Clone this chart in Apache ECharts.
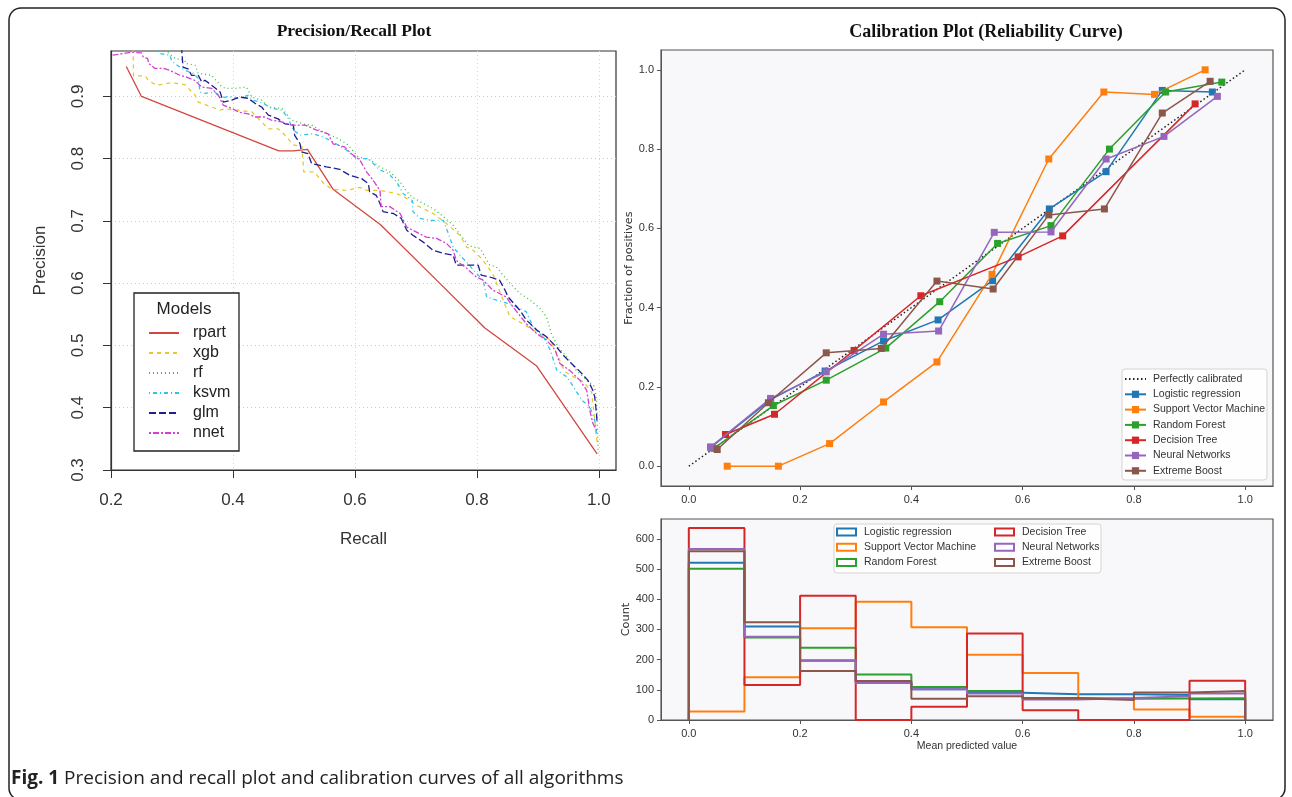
<!DOCTYPE html>
<html><head><meta charset="utf-8">
<script src="https://cdn.jsdelivr.net/npm/echarts@6/dist/echarts.min.js"></script>
<style>html,body{margin:0;padding:0;background:#fff}#c{width:1292px;height:797px}</style>
</head><body><div id="c"></div>
<script>
// ---------- Precision / Recall (recall, precision) ----------
const prModels = ['rpart', 'xgb', 'rf', 'ksvm', 'glm', 'nnet'];
const prRpart = [[0.225,0.948],[0.25,0.900],[0.475,0.8125],[0.499,0.8125],[0.500,0.815],[0.522,0.815],[0.564,0.751],[0.642,0.694],[0.740,0.599],[0.813,0.528],[0.898,0.467],[0.997,0.326]];
const prXgb = [[0.236,0.99],[0.237,0.933],[0.256,0.933],[0.262,0.925],[0.275,0.918],[0.299,0.922],[0.321,0.919],[0.338,0.902],[0.343,0.891],[0.365,0.883],[0.379,0.878],[0.386,0.880],[0.406,0.878],[0.431,0.875],[0.447,0.859],[0.458,0.848],[0.474,0.848],[0.485,0.838],[0.499,0.822],[0.513,0.820],[0.516,0.779],[0.532,0.779],[0.540,0.771],[0.548,0.761],[0.562,0.751],[0.586,0.749],[0.608,0.754],[0.619,0.749],[0.641,0.749],[0.663,0.745],[0.677,0.741],[0.690,0.733],[0.701,0.725],[0.712,0.720],[0.728,0.712],[0.750,0.696],[0.772,0.677],[0.783,0.658],[0.794,0.653],[0.805,0.642],[0.816,0.629],[0.827,0.613],[0.843,0.573],[0.854,0.546],[0.870,0.538],[0.892,0.525],[0.920,0.509],[0.933,0.482],[0.944,0.458],[0.958,0.450],[0.974,0.442],[0.988,0.426],[0.992,0.391],[0.996,0.353],[0.997,0.343]];
const prRf = [[0.290,0.99],[0.294,0.970],[0.305,0.961],[0.321,0.958],[0.322,0.953],[0.338,0.950],[0.343,0.937],[0.365,0.934],[0.379,0.918],[0.387,0.913],[0.403,0.913],[0.422,0.915],[0.431,0.899],[0.447,0.894],[0.458,0.883],[0.480,0.881],[0.496,0.862],[0.518,0.855],[0.529,0.854],[0.548,0.843],[0.573,0.832],[0.589,0.822],[0.605,0.803],[0.625,0.798],[0.641,0.787],[0.657,0.779],[0.674,0.763],[0.685,0.747],[0.693,0.739],[0.712,0.728],[0.728,0.720],[0.745,0.707],[0.761,0.693],[0.775,0.675],[0.786,0.661],[0.794,0.658],[0.805,0.656],[0.821,0.629],[0.832,0.626],[0.854,0.600],[0.870,0.584],[0.887,0.573],[0.903,0.560],[0.914,0.546],[0.922,0.519],[0.933,0.498],[0.947,0.482],[0.963,0.460],[0.980,0.444],[0.993,0.434],[0.996,0.412],[0.999,0.327]];
const prKsvm = [[0.270,0.99],[0.280,0.969],[0.297,0.966],[0.299,0.958],[0.304,0.953],[0.321,0.942],[0.335,0.937],[0.343,0.929],[0.346,0.907],[0.354,0.905],[0.370,0.907],[0.381,0.897],[0.392,0.900],[0.409,0.897],[0.425,0.902],[0.433,0.894],[0.450,0.889],[0.463,0.881],[0.480,0.878],[0.490,0.866],[0.499,0.846],[0.510,0.838],[0.532,0.840],[0.548,0.835],[0.564,0.827],[0.586,0.814],[0.603,0.800],[0.622,0.800],[0.641,0.782],[0.655,0.776],[0.668,0.763],[0.679,0.744],[0.694,0.733],[0.695,0.715],[0.707,0.704],[0.723,0.701],[0.745,0.701],[0.753,0.680],[0.761,0.658],[0.775,0.642],[0.783,0.634],[0.799,0.616],[0.810,0.605],[0.816,0.578],[0.832,0.573],[0.849,0.568],[0.865,0.562],[0.881,0.554],[0.892,0.530],[0.909,0.514],[0.920,0.493],[0.931,0.460],[0.947,0.450],[0.958,0.434],[0.972,0.412],[0.985,0.402],[0.993,0.380],[0.996,0.359]];
const prGlm = [[0.300,0.99],[0.316,0.975],[0.318,0.947],[0.327,0.944],[0.332,0.934],[0.343,0.934],[0.349,0.923],[0.354,0.926],[0.365,0.918],[0.379,0.907],[0.384,0.891],[0.398,0.894],[0.411,0.899],[0.425,0.897],[0.436,0.889],[0.447,0.883],[0.458,0.870],[0.474,0.864],[0.485,0.856],[0.499,0.854],[0.501,0.838],[0.510,0.824],[0.512,0.811],[0.523,0.808],[0.529,0.792],[0.553,0.787],[0.575,0.783],[0.592,0.773],[0.611,0.768],[0.622,0.760],[0.624,0.747],[0.635,0.741],[0.641,0.728],[0.646,0.715],[0.663,0.712],[0.676,0.704],[0.685,0.685],[0.695,0.677],[0.712,0.666],[0.728,0.653],[0.745,0.648],[0.761,0.645],[0.766,0.629],[0.802,0.629],[0.807,0.613],[0.821,0.610],[0.837,0.605],[0.846,0.589],[0.851,0.578],[0.870,0.557],[0.881,0.541],[0.898,0.525],[0.914,0.514],[0.930,0.498],[0.941,0.485],[0.955,0.471],[0.969,0.458],[0.982,0.444],[0.990,0.428],[0.993,0.418],[0.996,0.391],[0.997,0.375]];
const prNnet = [[0.196,0.966],[0.201,0.966],[0.234,0.971],[0.250,0.970],[0.253,0.963],[0.260,0.961],[0.262,0.953],[0.272,0.945],[0.286,0.945],[0.296,0.942],[0.313,0.934],[0.321,0.932],[0.337,0.926],[0.349,0.915],[0.365,0.913],[0.376,0.902],[0.384,0.886],[0.398,0.881],[0.409,0.875],[0.425,0.872],[0.436,0.867],[0.452,0.867],[0.463,0.862],[0.480,0.859],[0.496,0.854],[0.518,0.854],[0.537,0.846],[0.556,0.840],[0.564,0.824],[0.583,0.819],[0.594,0.808],[0.608,0.798],[0.619,0.779],[0.630,0.765],[0.641,0.749],[0.643,0.723],[0.657,0.723],[0.674,0.712],[0.685,0.690],[0.695,0.685],[0.717,0.674],[0.734,0.672],[0.750,0.664],[0.761,0.653],[0.766,0.637],[0.772,0.632],[0.783,0.624],[0.799,0.610],[0.810,0.605],[0.826,0.589],[0.848,0.578],[0.859,0.562],[0.881,0.535],[0.898,0.519],[0.914,0.509],[0.928,0.493],[0.936,0.471],[0.952,0.460],[0.969,0.444],[0.980,0.428],[0.985,0.396],[0.990,0.375],[0.996,0.364]];
const prTicksX = [0.2, 0.4, 0.6, 0.8, 1.0];
const prTicksY = [0.3, 0.4, 0.5, 0.6, 0.7, 0.8, 0.9];

// ---------- Calibration ----------
const calNames = ['Logistic regression', 'Support Vector Machine', 'Random Forest', 'Decision Tree', 'Neural Networks', 'Extreme Boost'];
const perfectX = [0, 1];
const perfectY = [0, 1];
const calLrX = [0.040,0.147,0.245,0.350,0.448,0.546,0.648,0.750,0.851,0.941];
const calLrY = [0.048,0.168,0.240,0.316,0.369,0.468,0.649,0.743,0.948,0.944];
const calSvmX = [0.069,0.161,0.253,0.350,0.446,0.545,0.647,0.746,0.837,0.928];
const calSvmY = [0.000,0.000,0.057,0.162,0.263,0.484,0.775,0.944,0.938,1.000];
const calRfX = [0.045,0.152,0.247,0.354,0.451,0.555,0.651,0.756,0.857,0.958];
const calRfY = [0.045,0.153,0.217,0.298,0.415,0.562,0.607,0.800,0.944,0.969];
const calDtX = [0.066,0.154,0.297,0.417,0.592,0.672,0.910];
const calDtY = [0.080,0.131,0.292,0.430,0.528,0.581,0.914];
const calNnX = [0.039,0.147,0.247,0.350,0.449,0.549,0.651,0.750,0.854,0.950];
const calNnY = [0.048,0.171,0.238,0.333,0.341,0.590,0.591,0.775,0.832,0.933];
const calXbX = [0.051,0.143,0.247,0.346,0.446,0.547,0.647,0.747,0.851,0.937];
const calXbY = [0.042,0.160,0.286,0.297,0.467,0.447,0.634,0.649,0.891,0.971];
const calTicks = [0.0, 0.2, 0.4, 0.6, 0.8, 1.0];

// ---------- Histogram of predicted values ----------
const binEdges = [0.0,0.1,0.2,0.3,0.4,0.5,0.6,0.7,0.8,0.9,1.0];
const histLr  = [521,310,196,124,102,90,85,85,83,69];
const histSvm = [28,142,304,392,307,216,156,70,35,11];
const histRf  = [501,273,239,151,109,96,73,70,71,72];
const histDt  = [636,116,412,0,44,287,32,0,0,130];
const histNn  = [567,276,198,123,102,88,68,73,79,88];
const histXb  = [559,324,162,129,70,79,72,66,91,96];
const histTicksY = [0,100,200,300,400,500,600];

// ---------- build ----------
const rColors = ['#d2473f', '#e6c82e', '#36c236', '#2cc5e8', '#1f1f8f', '#d23fd2'];
const rDash = ['solid', [4,4], [1,3], [1,3,4,3], [7,3], [2,2,6,2]];
const prData = [prRpart, prXgb, prRf, prKsvm, prGlm, prNnet];
const tab = ['#1f77b4', '#ff7f0e', '#2ca02c', '#d62728', '#9467bd', '#8c564b'];
const calX = [calLrX, calSvmX, calRfX, calDtX, calNnX, calXbX];
const calY = [calLrY, calSvmY, calRfY, calDtY, calNnY, calXbY];
const hists = [histLr, histSvm, histRf, histDt, histNn, histXb];
const zip = (xs, ys) => xs.map((x, i) => [x, ys[i]]);
const stepData = c => { const d = [[binEdges[0], 0]]; c.forEach((v, i) => d.push([binEdges[i], v])); d.push([binEdges[c.length], 0]); return d; };

const RF = '"Liberation Sans", Arial, sans-serif';
const NF = '"Liberation Sans", Arial, sans-serif';
const VF = '"DejaVu Sans", sans-serif';
const fmt1 = v => v.toFixed(1);

const series = [];
series.push({ name: 'Perfectly calibrated', type: 'line', xAxisIndex: 1, yAxisIndex: 1, data: zip(perfectX, perfectY), symbol: 'none',
  lineStyle: { color: '#222', width: 1.5, type: [1.5, 2.5] }, itemStyle: { color: '#222' }, z: 3 });
calNames.forEach((n, i) => series.push({ name: n, type: 'line', xAxisIndex: 1, yAxisIndex: 1, data: zip(calX[i], calY[i]),
  symbol: 'rect', symbolSize: 7, lineStyle: { color: tab[i], width: 1.5 }, itemStyle: { color: tab[i] }, z: 4 + i }));
calNames.forEach((n, i) => series.push({ name: n, type: 'line', xAxisIndex: 2, yAxisIndex: 2, data: stepData(hists[i]), step: 'end',
  symbol: 'none', lineStyle: { color: tab[i], width: 2 }, itemStyle: { color: tab[i] }, z: 4 + i }));
prModels.forEach((n, i) => series.push({ name: n, type: 'line', xAxisIndex: 0, yAxisIndex: 0, data: prData[i], symbol: 'none',
  lineStyle: { color: rColors[i], width: 1.3, type: rDash[i] }, itemStyle: { color: rColors[i] }, z: 3 + i }));

const calAxisLabel = { customValues: calTicks, formatter: fmt1, color: '#333', fontSize: 11, fontFamily: NF };
const noZero = { onZero: false, lineStyle: { color: '#555' } };

const option = {
  animation: false,
  grid: [
    { left: 111, top: 51, width: 505, height: 419, show: true, borderColor: '#333', borderWidth: 1.2, backgroundColor: '#fff' },
    { left: 661, top: 50, width: 612, height: 436, show: true, borderColor: '#555', borderWidth: 1.2, backgroundColor: '#f8f8fa' },
    { left: 661, top: 519, width: 612, height: 201, show: true, borderColor: '#555', borderWidth: 1.2, backgroundColor: '#f8f8fa' }
  ],
  xAxis: [
    { gridIndex: 0, type: 'value', min: 0.2, max: 1.028, interval: 0.2,
      axisLine: { onZero: false, lineStyle: { color: '#333', width: 1.2 } }, axisTick: { customValues: prTicksX, length: 8, lineStyle: { color: '#333' } },
      axisLabel: { customValues: prTicksX, formatter: fmt1, fontSize: 17, color: '#333', margin: 22, fontFamily: RF },
      splitLine: { show: true, lineStyle: { color: '#d6cdee', type: [1, 3], width: 1 } },
      name: 'Recall', nameLocation: 'middle', nameGap: 61, nameTextStyle: { fontSize: 17, color: '#333', fontFamily: RF } },
    { gridIndex: 1, type: 'value', min: -0.05, max: 1.05,
      axisLine: noZero, axisTick: { customValues: calTicks, length: 4, lineStyle: { color: '#555' } },
      axisLabel: Object.assign({ margin: 8 }, calAxisLabel), splitLine: { show: false } },
    { gridIndex: 2, type: 'value', min: -0.05, max: 1.05,
      axisLine: noZero, axisTick: { customValues: calTicks, length: 4, lineStyle: { color: '#555' } },
      axisLabel: Object.assign({ margin: 8 }, calAxisLabel), splitLine: { show: false },
      name: 'Mean predicted value', nameLocation: 'middle', nameGap: 21, nameTextStyle: { fontSize: 10.5, color: '#333', fontFamily: NF } }
  ],
  yAxis: [
    { gridIndex: 0, type: 'value', min: 0.3, max: 0.973, interval: 0.1,
      axisLine: { onZero: false, lineStyle: { color: '#333', width: 1.2 } }, axisTick: { customValues: prTicksY, length: 8, lineStyle: { color: '#333' } },
      axisLabel: { customValues: prTicksY, formatter: fmt1, fontSize: 17, color: '#333', margin: 24, rotate: 90, fontFamily: RF },
      splitLine: { show: true, lineStyle: { color: '#c9ccd8', type: [1, 3], width: 1 } },
      name: 'Precision', nameLocation: 'middle', nameGap: 62, nameTextStyle: { fontSize: 17, color: '#333', fontFamily: RF } },
    { gridIndex: 1, type: 'value', min: -0.05, max: 1.05,
      axisLine: noZero, axisTick: { customValues: calTicks, length: 4, lineStyle: { color: '#555' } },
      axisLabel: Object.assign({ margin: 7 }, calAxisLabel), splitLine: { show: false },
      name: 'Fraction of positives', nameLocation: 'middle', nameGap: 23, nameTextStyle: { fontSize: 11.3, color: '#333', fontFamily: VF } },
    { gridIndex: 2, type: 'value', min: 0, max: 666, interval: 100,
      axisLine: noZero, axisTick: { customValues: histTicksY, length: 4, lineStyle: { color: '#555' } },
      axisLabel: { customValues: histTicksY, margin: 7, color: '#333', fontSize: 11, fontFamily: NF }, splitLine: { show: false },
      name: 'Count', nameLocation: 'middle', nameGap: 27, nameTextStyle: { fontSize: 11.3, color: '#333', fontFamily: VF } }
  ],
  legend: [
    { data: prModels, orient: 'vertical', left: 148, top: 325, padding: 0, z: 20, itemWidth: 30, itemHeight: 14, itemGap: 4,
      itemStyle: { opacity: 0 },
      textStyle: { fontSize: 16, lineHeight: 16, color: '#222', fontFamily: RF, padding: [0, 0, 0, 9] }, selectedMode: false },
    { data: [{ name: 'Perfectly calibrated', itemStyle: { opacity: 0 } }].concat(calNames), orient: 'vertical', left: 1124, top: 373.5, padding: 0, z: 20,
      itemWidth: 21, itemHeight: 9, itemGap: 4.3,
      textStyle: { fontSize: 10.5, lineHeight: 11, color: '#333', fontFamily: NF, padding: [0, 0, 0, 2] }, selectedMode: false },
    { data: [0, 1, 2].map(i => ({ name: calNames[i], icon: 'rect', itemStyle: { color: 'rgba(0,0,0,0)', borderColor: tab[i], borderWidth: 2 } })),
      orient: 'vertical', left: 836, top: 526.5, padding: 0, z: 20, itemWidth: 19, itemHeight: 7, itemGap: 4.3,
      textStyle: { fontSize: 10.5, lineHeight: 11, color: '#333', fontFamily: NF, padding: [0, 0, 0, 3] }, selectedMode: false },
    { data: [3, 4, 5].map(i => ({ name: calNames[i], icon: 'rect', itemStyle: { color: 'rgba(0,0,0,0)', borderColor: tab[i], borderWidth: 2 } })),
      orient: 'vertical', left: 994, top: 526.5, padding: 0, z: 20, itemWidth: 19, itemHeight: 7, itemGap: 4.3,
      textStyle: { fontSize: 10.5, lineHeight: 11, color: '#333', fontFamily: NF, padding: [0, 0, 0, 3] }, selectedMode: false }
  ],
  graphic: [
    { type: 'rect', shape: { x: 9, y: 8, width: 1276, height: 792, r: 12 }, style: { fill: 'none', stroke: '#222', lineWidth: 1.5 }, z: 0 },
    { type: 'text', x: 354, y: 31, style: { text: 'Precision/Recall Plot', font: 'bold 17.5px "Liberation Serif", "Times New Roman", serif', fill: '#111', textAlign: 'center', textVerticalAlign: 'middle' } },
    { type: 'text', x: 986, y: 32, style: { text: 'Calibration Plot (Reliability Curve)', font: 'bold 18px "Liberation Serif", "Times New Roman", serif', fill: '#111', textAlign: 'center', textVerticalAlign: 'middle' } },
    { type: 'rect', shape: { x: 134, y: 293, width: 105, height: 158 }, style: { fill: '#fff', stroke: '#222', lineWidth: 1.3 }, z: 1 },
    { type: 'text', x: 184, y: 309, style: { text: 'Models', font: '17px "Liberation Sans", Arial, sans-serif', fill: '#222', textAlign: 'center', textVerticalAlign: 'middle' }, z: 2 },
    { type: 'rect', shape: { x: 1122, y: 369, width: 145, height: 111, r: 3 }, style: { fill: 'rgba(255,255,255,0.85)', stroke: '#d4d4d4', lineWidth: 1 }, z: 1 },
    { type: 'rect', shape: { x: 834, y: 524, width: 267, height: 49, r: 3 }, style: { fill: 'rgba(255,255,255,0.85)', stroke: '#d4d4d4', lineWidth: 1 }, z: 1 },
    { type: 'text', x: 11, y: 779, style: { text: '{b|Fig. 1} Precision and recall plot and calibration curves of all algorithms',
      rich: { b: { fontWeight: 'bold', fontSize: 19, fontFamily: '"Open Sans", sans-serif', fill: '#222' } },
      font: '19px "Open Sans", sans-serif', fill: '#222', textVerticalAlign: 'middle' } }
  ],
  series: series
};
const chart = echarts.init(document.getElementById('c'), null, { renderer: 'canvas' });
chart.setOption(option);
</script></body></html>
